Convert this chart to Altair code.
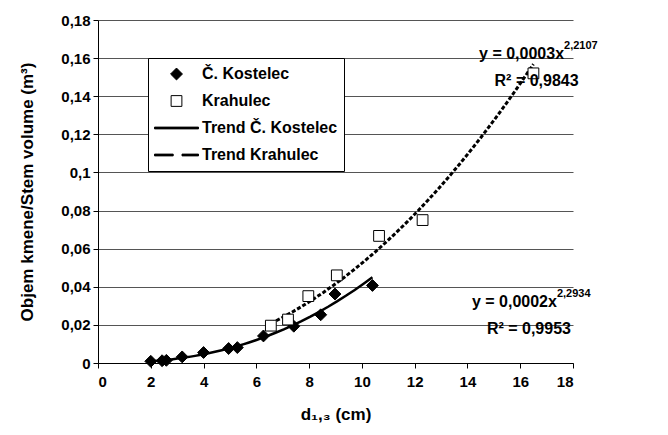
import altair as alt
import pandas as pd

# --- data ---
kostelec_x = [2.0, 2.43, 2.59, 3.19, 4.0, 4.95, 5.28, 6.27, 7.42, 8.44, 8.98, 10.4]
kostelec_y = [0.0009, 0.0012, 0.0014, 0.0032, 0.0055, 0.0076, 0.0081, 0.0142, 0.0193, 0.0253, 0.0362, 0.0407]
krahulec_x = [6.55, 7.2, 7.97, 9.05, 10.65, 12.3, 16.5]
krahulec_y = [0.0196, 0.0228, 0.0351, 0.046, 0.0667, 0.075, 0.152]

legend_labels = ["Č. Kostelec", "Krahulec", "Trend Č. Kostelec", "Trend Krahulec"]
x_ticks = [0, 2, 4, 6, 8, 10, 12, 14, 16, 18]
y_ticks = [0, 0.02, 0.04, 0.06, 0.08, 0.1, 0.12, 0.14, 0.16, 0.18]

# equation annotations (text, anchor x, baseline y)
eq_main_text = ["y = 0,0003x", "y = 0,0002x"]
eq_main_x = [17.66, 17.39]
eq_main_y = [0.1595, 0.0294]
eq_sup_text = ["2,2107", "2,2934"]
eq_sup_y = [0.1648, 0.0346]
r2_text = ["R² = 0,9843", "R² = 0,9953"]
r2_x = [16.62, 16.33]
r2_y = [0.1454, 0.0152]

FONT = "Liberation Sans"

df_k = pd.DataFrame({"x": kostelec_x, "y": kostelec_y})
df_r = pd.DataFrame({"x": krahulec_x, "y": krahulec_y})
df_pts = pd.concat([
    df_k.assign(series=legend_labels[0]),
    df_r.assign(series=legend_labels[1]),
], ignore_index=True)
df_eq = pd.DataFrame({"t": eq_main_text, "x": eq_main_x, "y": eq_main_y})
df_sup = pd.DataFrame({"t": eq_sup_text, "x": eq_main_x, "y": eq_sup_y})
df_r2 = pd.DataFrame({"t": r2_text, "x": r2_x, "y": r2_y})

shape_range = [
    "M0,-0.27L0.27,0L0,0.27L-0.27,0Z",
    "M-0.245,-0.245H0.245V0.245H-0.245Z",
    "M-1,-0.04H1V0.04H-1Z",
    "M-1,-0.04H-0.15V0.04H-1Z M0.25,-0.04H1V0.04H0.25Z",
]
fill_range = ["black", "white", "black", "black"]
stroke_range = ["black", "black", "black", "black"]

xs = alt.Scale(domain=[0, 18], nice=False)
ys = alt.Scale(domain=[0, 0.18], nice=False)

x_enc = alt.X("x:Q", scale=xs, axis=alt.Axis(
    values=x_ticks, title="d₁,₃ (cm)", grid=False, format="d",
    tickSize=5, labelPadding=6, titlePadding=17))
y_enc = alt.Y("y:Q", scale=ys, axis=alt.Axis(
    values=y_ticks, title="Objem kmene/Stem volume (m³)", grid=True,
    labelExpr="replace(format(datum.value, '~g'), '.', ',')",
    tickSize=5, labelPadding=3, titlePadding=24))

trend_k = alt.Chart(df_k).transform_regression("x", "y", method="pow").mark_line(
    color="black", strokeWidth=2.5).encode(x=x_enc, y=y_enc)
trend_r = alt.Chart(df_r).transform_regression("x", "y", method="pow").mark_line(
    color="black", strokeWidth=3, strokeDash=[4, 2]).encode(x=x_enc, y=y_enc)

legend = alt.Legend(
    title=None, orient="none", legendX=50, legendY=38,
    strokeColor="black", fillColor="white", padding=6,
    labelFont=FONT, labelFontWeight="bold", labelFontSize=16, labelColor="black",
    labelOffset=3, symbolSize=1936, clipHeight=20, rowPadding=7,
    symbolStrokeWidth=1, symbolOpacity=1,
)

points = alt.Chart(df_pts).mark_point(
    filled=True, strokeWidth=1, opacity=1, size=1936
).encode(
    x=x_enc, y=y_enc,
    shape=alt.Shape("series:N", scale=alt.Scale(domain=legend_labels, range=shape_range),
                    legend=legend, sort=legend_labels),
    fill=alt.Fill("series:N", scale=alt.Scale(domain=legend_labels, range=fill_range),
                  legend=legend, sort=legend_labels),
    stroke=alt.Stroke("series:N", scale=alt.Scale(domain=legend_labels, range=stroke_range),
                      legend=legend, sort=legend_labels),
)

eq_main = alt.Chart(df_eq).mark_text(
    align="right", baseline="alphabetic", font=FONT, fontWeight="bold",
    fontSize=16, color="black").encode(x=x_enc, y=y_enc, text="t:N")
eq_sup = alt.Chart(df_sup).mark_text(
    align="left", baseline="alphabetic", font=FONT, fontWeight="bold",
    fontSize=11, color="black").encode(x=x_enc, y=y_enc, text="t:N")
r2 = alt.Chart(df_r2).mark_text(
    align="center", baseline="alphabetic", font=FONT, fontWeight="bold",
    fontSize=16, color="black").encode(x=x_enc, y=y_enc, text="t:N")

chart = alt.layer(trend_k, trend_r, points, eq_main, eq_sup, r2).properties(
    width=475, height=343,
    autosize=alt.AutoSizeParams(type="none"),
    padding={"left": 90, "top": 12, "right": 85, "bottom": 64},
    background="white",
).configure_view(stroke=None).configure_axis(
    labelFont=FONT, labelFontWeight="bold", labelFontSize=15, labelColor="black",
    titleFont=FONT, titleFontWeight="bold", titleFontSize=17, titleColor="black",
    domainColor="black", tickColor="black", gridColor="#555555", gridWidth=1,
)

chart.save("out.html", embed_options={"renderer": "svg", "actions": False})
